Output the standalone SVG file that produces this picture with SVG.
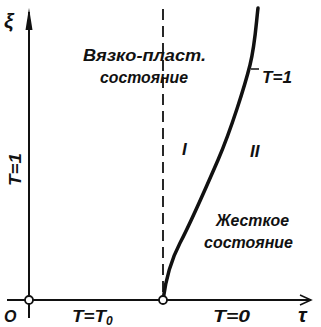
<svg xmlns="http://www.w3.org/2000/svg" width="321" height="327" viewBox="0 0 321 327">
<style>
.t{font-family:"Liberation Sans",Arial,sans-serif;font-style:italic;font-weight:bold;fill:#111;}
.lbl{font-size:17px;}
.ax{stroke:#111;stroke-width:2;fill:none;}
</style>
<rect width="321" height="327" fill="#fff"/>
<g id="connectors">
  <path id="x-axis" class="ax" d="M7,300 H311"/>
  <path d="M300,295 L311,300 L300,305" fill="none" stroke="#111" stroke-width="1.5"/>
  <path id="y-axis" class="ax" d="M29,318 V12"/>
  <path d="M25.5,30 L29,8 L32.5,30 Z" fill="#111"/>
  <path id="dashed" d="M163,9 V298" stroke="#111" stroke-width="1.8" stroke-dasharray="11,6" fill="none"/>
  <path id="boundary" d="M163,300 C165,285 170,262 180,243 S205,190 218,160 S245,85 250,65 S256,25 258,8" fill="none" stroke="#111" stroke-width="3.5" stroke-linecap="round"/>
  <path d="M251,69 H259" stroke="#111" stroke-width="1.5"/>
</g>
<g id="origin"><circle cx="29" cy="300" r="4" fill="#fff" stroke="#111" stroke-width="1.8"/></g>
<g id="point-T0"><circle cx="163" cy="300" r="4" fill="#fff" stroke="#111" stroke-width="1.8"/></g>
<g id="labels">
  <text class="t" x="4" y="28" font-size="21" font-weight="normal">ξ</text>
  <text class="t lbl" x="83" y="61" textLength="123" lengthAdjust="spacingAndGlyphs">Вязко-пласт.</text>
  <text class="t lbl" x="100" y="83" textLength="88" lengthAdjust="spacingAndGlyphs">состояние</text>
  <text class="t lbl" x="262" y="83" textLength="30" lengthAdjust="spacingAndGlyphs">T=1</text>
  <text class="t" x="182" y="155" font-size="17">I</text>
  <text class="t" x="250" y="157" font-size="17">II</text>
  <text class="t lbl" x="216" y="226" textLength="73" lengthAdjust="spacingAndGlyphs">Жесткое</text>
  <text class="t lbl" x="204" y="248" textLength="89" lengthAdjust="spacingAndGlyphs">состояние</text>
  <text class="t" font-size="17" transform="translate(21,186) rotate(-90)" textLength="33" lengthAdjust="spacingAndGlyphs">T=1</text>
  <text class="t" x="4" y="322" font-size="16" font-weight="normal">O</text>
  <text class="t lbl" x="72" y="322" textLength="34" lengthAdjust="spacingAndGlyphs">T=T</text><text class="t" x="106" y="325" font-size="12">0</text>
  <text class="t lbl" x="213" y="322" textLength="37" lengthAdjust="spacingAndGlyphs">T=0</text>
  <text class="t" x="298" y="322" font-size="21" font-weight="normal">τ</text>
</g>
</svg>
